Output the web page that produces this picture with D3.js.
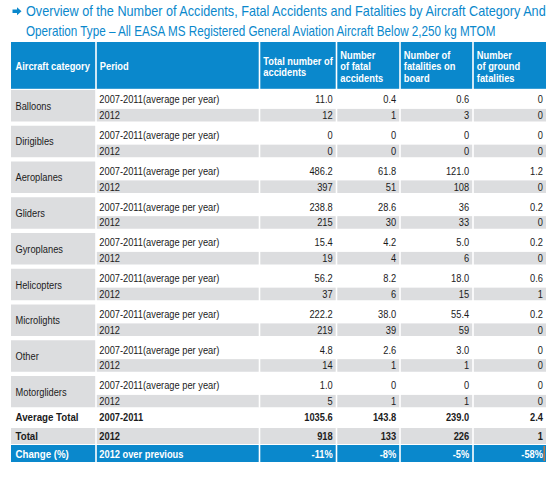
<!DOCTYPE html>
<html><head><meta charset="utf-8">
<script src="https://cdn.jsdelivr.net/npm/d3@7"></script>
<style>
html,body{margin:0;padding:0;background:#fff;}
svg{display:block;}
text{font-family:"Liberation Sans",Arial,sans-serif;}
</style></head>
<body>
<script>
// ---- DATA ----
const titleLines = ["Overview of the Number of Accidents, Fatal Accidents and Fatalities by Aircraft Category And",
  "Operation Type \u2013 All EASA MS Registered General Aviation Aircraft Below 2,250 kg MTOM"];
const headers = [["Aircraft category"],["Period"],["Total number of","accidents"],["Number","of fatal","accidents"],["Number of","fatalities on","board"],["Number","of ground","fatalities"]];
const categories = ["Balloons","Dirigibles","Aeroplanes","Gliders","Gyroplanes","Helicopters","Microlights","Other","Motorgliders"];
const periods = ["2007-2011(average per year)","2012"];
const avgValues = [
  ["11.0","0.4","0.6","0"],
  ["0","0","0","0"],
  ["486.2","61.8","121.0","1.2"],
  ["238.8","28.6","36","0.2"],
  ["15.4","4.2","5.0","0.2"],
  ["56.2","8.2","18.0","0.6"],
  ["222.2","38.0","55.4","0.2"],
  ["4.8","2.6","3.0","0"],
  ["1.0","0","0","0"]
];
const values2012 = [
  ["12","1","3","0"],
  ["0","0","0","0"],
  ["397","51","108","0"],
  ["215","30","33","0"],
  ["19","4","6","0"],
  ["37","6","15","1"],
  ["219","39","59","0"],
  ["14","1","1","0"],
  ["5","1","1","0"]
];
const summaryLabels = ["Average Total","Total","Change (%)"];
const summaryPeriods = ["2007-2011","2012","2012 over previous"];
const summaryValues = [
  ["1035.6","143.8","239.0","2.4"],
  ["918","133","226","1"],
  ["-11%","-8%","-5%","-58%"]
];

// ---- LAYOUT ----
const W = 555, H = 484;
const BLUE = "#0a88cc", GREY = "#dcdddf", TXT = "#1b1b1b";
const SX = 0.845;
const edges = [11, 96, 259.5, 336.5, 400, 473, 546];
const gap = 1.6;
const colX = i => edges[i] + (i===0?0:gap/2);
const colW = i => edges[i+1] - edges[i] - (i===0||i===5 ? gap/2 : gap);

const svg = d3.select("body").append("svg").attr("width", W).attr("height", H);

function txt(x, y, s, o={}) {
  return svg.append("text")
    .attr("transform", `translate(${x},${y}) scale(${o.sx || SX},1)`)
    .attr("text-anchor", o.anchor || "start")
    .attr("font-size", o.size || 11)
    .attr("font-weight", o.bold ? "bold" : "normal")
    .attr("fill", o.fill || TXT)
    .text(s);
}

// title
svg.append("path").attr("d","M12.5,9.5 H17 V7.3 L21.5,11.3 L17,15.3 V13 H12.5 Z").attr("fill", BLUE);
const titleLen = [520, 469];
titleLines.forEach((l,i)=>{
  const t = txt(26, 16 + i*20, l, {size:14.2, fill:BLUE, sx:1});
  const w = t.node().getComputedTextLength();
  t.attr("transform", `translate(26,${16 + i*20}) scale(${titleLen[i]/w},1)`);
});

// header
const hTop = 42, hBot = 88.8;
headers.forEach((lines,i)=>{
  svg.append("rect").attr("x", colX(i)).attr("y", hTop).attr("width", colW(i)).attr("height", hBot-hTop).attr("fill", BLUE);
  const lh = 11.6;
  const cy = (hTop+hBot)/2 + 1;
  const start = cy - (lines.length-1)*lh/2;
  lines.forEach((l,k)=>{
    txt(colX(i) + (i===0?4.5:3), start + k*lh + 4, l, {bold:true, fill:"#fff"});
  });
});

// groups via band scale
const y = d3.scaleBand().domain(categories).range([90, 407.5]).paddingInner(0.119).paddingOuter(0).align(0);
const r1 = 0.6;
categories.forEach((c,gi)=>{
  const top = y(c), bh = y.bandwidth();
  const h1 = Math.round(bh*r1*10)/10;
  svg.append("rect").attr("x", colX(0)).attr("y", top).attr("width", colW(0)).attr("height", bh).attr("fill", GREY);
  txt(colX(0)+4.5, top + bh/2 + 4, c);
  for (let i=1;i<6;i++){
    svg.append("rect").attr("x", colX(i)).attr("y", top+h1).attr("width", colW(i)).attr("height", bh-h1).attr("fill", GREY);
  }
  const rows = [avgValues[gi], values2012[gi]];
  const cys = [top + h1/2, top + h1 + (bh-h1)/2];
  rows.forEach((vals,ri)=>{
    txt(colX(1)+2.5, cys[ri]+4, periods[ri]);
    vals.forEach((v,k)=>{
      txt(colX(k+2)+colW(k+2)-3, cys[ri]+4, v, {anchor:"end"});
    });
  });
});

// summary rows
const sTops = [407.5, 428, 445];
const sHeights = [19.5, 16, 17];
const sFills = ["#fff", GREY, BLUE];
const sText = [TXT, TXT, "#fff"];
summaryLabels.forEach((lab,si)=>{
  for (let i=0;i<6;i++){
    svg.append("rect").attr("x", colX(i)).attr("y", sTops[si]).attr("width", colW(i)).attr("height", sHeights[si]).attr("fill", sFills[si]);
  }
  const cy = sTops[si] + sHeights[si]/2 + 4;
  txt(colX(0)+4.5, cy, lab, {bold:true, size:11.5, fill:sText[si]});
  txt(colX(1)+2.5, cy, summaryPeriods[si], {bold:true, fill:sText[si]});
  summaryValues[si].forEach((v,k)=>{
    txt(colX(k+2)+colW(k+2)-3, cy, v, {anchor:"end", bold:true, fill:sText[si]});
  });
});
svg.append("rect").attr("x", 543.6).attr("y", 446).attr("width", 1.2).attr("height", 15).attr("fill", "#e8742a");
</script>
</body></html>
